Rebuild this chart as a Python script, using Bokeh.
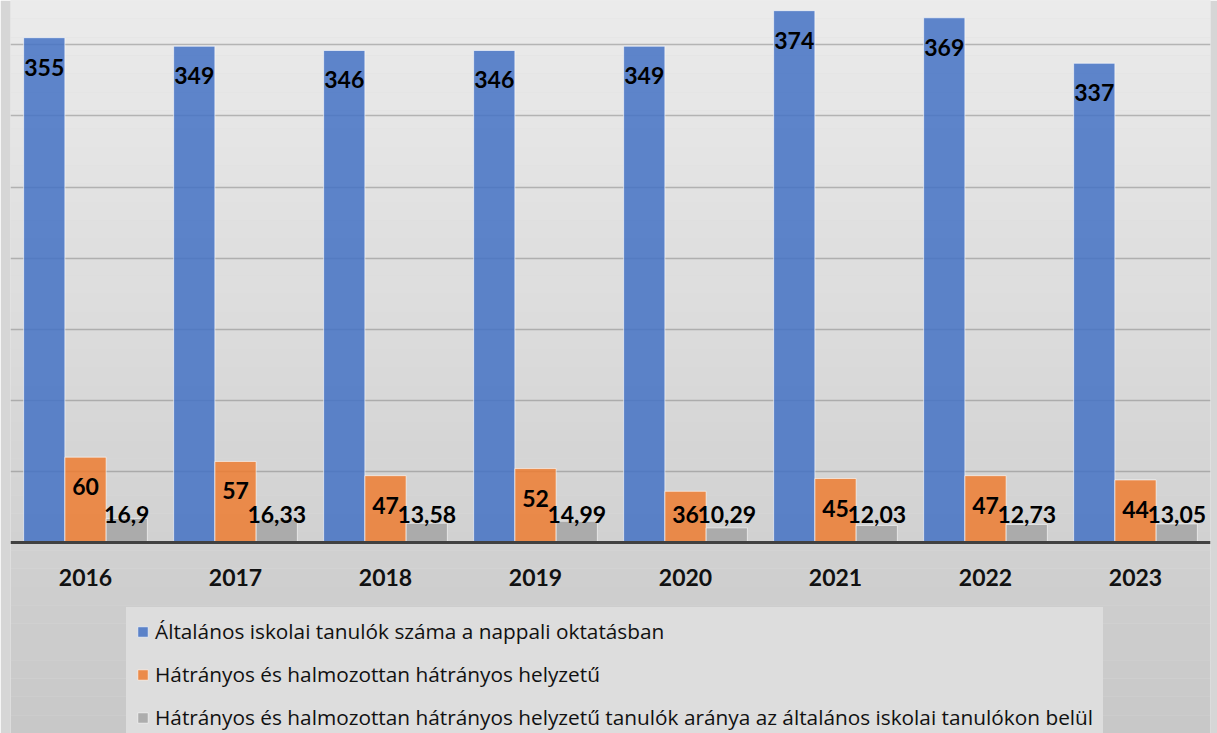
from bokeh.plotting import figure
from bokeh.models import (FactorRange, ColumnDataSource, Legend, LegendItem,
                          FixedTicker, BoxAnnotation)
from bokeh.transform import dodge
from bokeh.core.properties import value
from bokeh.embed import file_html
from bokeh.resources import INLINE

# ---- data -------------------------------------------------------------
years = ["2016", "2017", "2018", "2019", "2020", "2021", "2022", "2023"]
tanulok = [355, 349, 346, 346, 349, 374, 369, 337]
hatranyos = [60, 57, 47, 52, 36, 45, 47, 44]
arany = [16.9, 16.33, 13.58, 14.99, 10.29, 12.03, 12.73, 13.05]
series_names = [
    "Általános iskolai tanulók száma a nappali oktatásban",
    "Hátrányos és halmozottan hátrányos helyzetű",
    "Hátrányos és halmozottan hátrányos helyzetű tanulók aránya az általános iskolai tanulókon belül",
]
colors = ["#4472C4", "#ED7D31", "#A5A5A5"]
grid_ticks = [50, 100, 150, 200, 250, 300, 350]

# ---- layout constants --------------------------------------------------
W, H = 1217, 733
BASE_Y = 542                    # pixel row of the zero line
PPU = 71.1 / 50                 # pixels per unit
Y_END = BASE_Y / PPU
Y_START = -(H - BASE_Y) / PPU
BAR_W = 0.275
FONT = "Lato"
LEG_FONT = "Open Sans"


def fmt(v):
    return f"{v:g}".replace(".", ",")


def label_y(vals):
    off = 29.5 / PPU
    floor = 28.0 / PPU
    return [max(v - off, floor) for v in vals]


src = ColumnDataSource(dict(
    year=years,
    tanulok=tanulok, hatranyos=hatranyos, arany=arany,
    t_lbl=[fmt(v) for v in tanulok],
    h_lbl=[fmt(v) for v in hatranyos],
    a_lbl=[fmt(v) for v in arany],
    t_y=label_y(tanulok), h_y=label_y(hatranyos), a_y=label_y(arany),
))

p = figure(x_range=FactorRange(factors=years, range_padding=0),
           y_range=(Y_START, Y_END), width=W, height=H,
           output_backend="svg", toolbar_location=None,
           min_border_left=10, min_border_right=7, min_border_top=0,
           min_border_bottom=0)

p.background_fill_color = "#DCDCDC"
p.border_fill_color = "#D6D6D6"
p.outline_line_color = None

# soft vertical background gradient (light top -> darker bottom)
N_BANDS = 40
top_c, bot_c = 0xEB, 0xC8
span = Y_END - Y_START
for i in range(N_BANDS):
    t = i / (N_BANDS - 1)
    g = round(top_c + (bot_c - top_c) * t)
    hexc = "#%02x%02x%02x" % (g, g, g)
    b_top = Y_END - span * i / N_BANDS
    b_bot = Y_END - span * (i + 1) / N_BANDS
    p.add_layout(BoxAnnotation(top=b_top, bottom=b_bot, fill_color=hexc,
                               fill_alpha=1.0, line_color=None, level="image"))

p.yaxis.visible = False
p.xgrid.grid_line_color = None
p.ygrid.ticker = FixedTicker(ticks=grid_ticks)
p.ygrid.grid_line_color = "#808080"
p.ygrid.grid_line_alpha = 0.5
p.ygrid.grid_line_width = 1.5

xa = p.xaxis[0]
xa.fixed_location = 0
xa.axis_line_color = "#404040"
xa.axis_line_width = 3
xa.major_tick_line_color = None
xa.minor_tick_line_color = None
xa.major_tick_out = 0
xa.major_tick_in = 0
xa.major_label_standoff = 26
xa.major_label_text_font = FONT
xa.major_label_text_font_style = "bold"
xa.major_label_text_font_size = "23px"
xa.major_label_text_color = "#111111"

fields = ["tanulok", "hatranyos", "arany"]
offsets = [-BAR_W, 0.0, BAR_W]
renderers = []
for f, off, c in zip(fields, offsets, colors):
    r = p.vbar(x=dodge("year", off, range=p.x_range), top=f, width=BAR_W,
               source=src, fill_color=c, fill_alpha=0.85,
               line_color="white", line_alpha=0.6, line_width=1)
    renderers.append(r)

for lbl, ly, off in zip(["t_lbl", "h_lbl", "a_lbl"], ["t_y", "h_y", "a_y"], offsets):
    p.text(x=dodge("year", off, range=p.x_range), y=ly, text=lbl, source=src,
           text_align="center", text_baseline="middle",
           text_font=value(FONT), text_font_style="bold",
           text_font_size=value("23px"), text_color="#000000")

PAD, ITEM_H, SPACING = 9, 28, 15
LEG_H = 2 * PAD + 3 * ITEM_H + 2 * SPACING
LEG_TOP, LEG_LEFT = 609, 126
legend = Legend(
    items=[LegendItem(label=n, renderers=[r]) for n, r in zip(series_names, renderers)],
    location=(LEG_LEFT - 10, (H - LEG_TOP) - LEG_H), orientation="vertical",
    glyph_width=13, glyph_height=13, label_standoff=6, padding=PAD,
    spacing=SPACING, label_height=ITEM_H, margin=0,
    label_text_font=LEG_FONT, label_text_font_size="20.8px", label_text_color="#111111",
    background_fill_color="#DDDDDD", background_fill_alpha=1.0,
    border_line_color="#DDDDDD", border_line_width=1,
)
p.add_layout(legend)

open("out.html", "w").write(file_html(p, INLINE))
